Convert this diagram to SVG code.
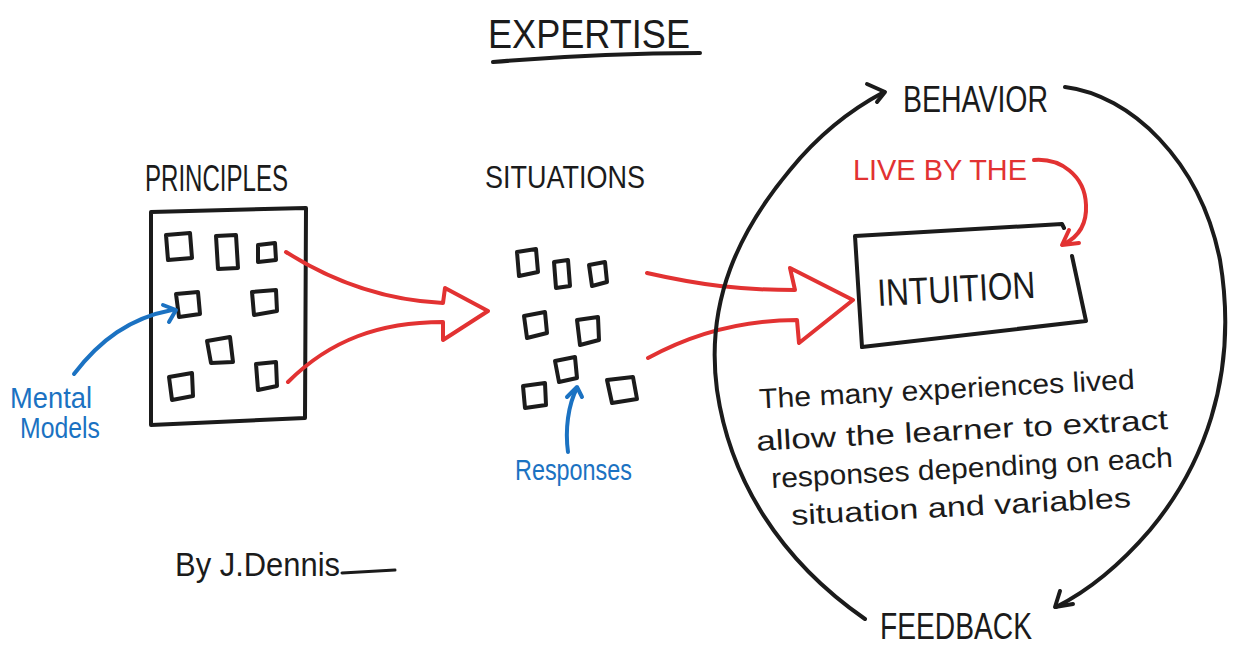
<svg xmlns="http://www.w3.org/2000/svg" width="1234" height="650" viewBox="0 0 1234 650">
<style>
  .k{fill:none;stroke:#1b1b1b;stroke-width:4;stroke-linecap:round;stroke-linejoin:round}
  .kt{fill:none;stroke:#1b1b1b;stroke-width:3;stroke-linecap:round;stroke-linejoin:round}
  .r{fill:none;stroke:#e23232;stroke-width:4;stroke-linecap:round;stroke-linejoin:round}
  .b{fill:none;stroke:#1b72c2;stroke-width:4;stroke-linecap:round;stroke-linejoin:round}
  .t{font-family:"Liberation Sans","DejaVu Sans",sans-serif;fill:#1b1b1b}
  .tr{font-family:"Liberation Sans","DejaVu Sans",sans-serif;fill:#e23232}
  .tb{font-family:"Liberation Sans","DejaVu Sans",sans-serif;fill:#1b72c2}
</style>
<rect width="1234" height="650" fill="#ffffff"/>

<g id="title">
  <text class="t" x="488" y="48" font-size="40" textLength="202" lengthAdjust="spacingAndGlyphs">EXPERTISE</text>
  <path class="k" d="M493 62 Q600 53 700 53"/>
</g>

<g id="principles">
  <text class="t" x="145" y="191" font-size="36" textLength="143" lengthAdjust="spacingAndGlyphs">PRINCIPLES</text>
  <path class="k" d="M151 212 L306 208 L305 418 L151 425 Z"/>
  <path class="k" d="M166 235 L190 233 L192 258 L168 260 Z"/>
  <path class="k" d="M216 236 L236 235 L238 268 L218 269 Z"/>
  <path class="k" d="M258 245 L275 243 L276 260 L258 262 Z"/>
  <path class="k" d="M176 294 L198 292 L200 314 L179 317 Z"/>
  <path class="k" d="M252 292 L276 290 L277 311 L254 315 Z"/>
  <path class="k" d="M207 341 L230 337 L233 362 L211 363 Z"/>
  <path class="k" d="M169 377 L192 373 L193 396 L172 400 Z"/>
  <path class="k" d="M256 364 L276 362 L277 386 L258 390 Z"/>
</g>

<g id="mental-models">
  <text class="tb" x="10" y="408" font-size="30" textLength="82" lengthAdjust="spacingAndGlyphs">Mental</text>
  <text class="tb" x="20" y="438" font-size="30" textLength="80" lengthAdjust="spacingAndGlyphs">Models</text>
</g>

<g id="situations">
  <text class="t" x="485" y="188" font-size="32" textLength="160" lengthAdjust="spacingAndGlyphs">SITUATIONS</text>
  <path class="k" d="M517 252 L536 249 L538 272 L519 276 Z"/>
  <path class="k" d="M554 262 L568 260 L570 286 L556 288 Z"/>
  <path class="k" d="M589 265 L605 262 L607 282 L592 286 Z"/>
  <path class="k" d="M524 316 L545 312 L547 333 L527 338 Z"/>
  <path class="k" d="M577 320 L598 317 L599 340 L580 345 Z"/>
  <path class="k" d="M555 361 L575 357 L577 378 L559 382 Z"/>
  <path class="k" d="M523 386 L545 383 L546 405 L525 408 Z"/>
  <path class="k" d="M607 380 L633 377 L637 399 L612 403 Z"/>
</g>

<g id="responses">
  <text class="tb" x="515" y="480" font-size="30" textLength="117" lengthAdjust="spacingAndGlyphs">Responses</text>
</g>

<g id="intuition">
  <path class="k" d="M862 347 L855 236 L1062 224 L1064 228"/>
  <path class="k" d="M1072 256 L1086 321 L862 347"/>
  <text class="t" x="877" y="302" font-size="38" textLength="158" lengthAdjust="spacingAndGlyphs" transform="rotate(-3 956 284)">INTUITION</text>
</g>

<g id="live-by-the">
  <text class="tr" x="853" y="180" font-size="29" textLength="174" lengthAdjust="spacingAndGlyphs">LIVE BY THE</text>
</g>

<g id="behavior">
  <text class="t" x="903" y="112" font-size="36" textLength="145" lengthAdjust="spacingAndGlyphs">BEHAVIOR</text>
</g>

<g id="feedback">
  <text class="t" x="880" y="639" font-size="36" textLength="152" lengthAdjust="spacingAndGlyphs">FEEDBACK</text>
</g>

<g id="description">
  <g transform="rotate(-3 960 450)">
    <text class="t" x="762" y="398" font-size="28" textLength="376" lengthAdjust="spacingAndGlyphs">The many experiences lived</text>
    <text class="t" x="757" y="440" font-size="28" textLength="412" lengthAdjust="spacingAndGlyphs">allow the learner to extract</text>
    <text class="t" x="770" y="478" font-size="28" textLength="402" lengthAdjust="spacingAndGlyphs">responses depending on each</text>
    <text class="t" x="788" y="516" font-size="28" textLength="340" lengthAdjust="spacingAndGlyphs">situation and variables</text>
  </g>
</g>

<g id="signature">
  <text class="t" x="175" y="576" font-size="34" textLength="165" lengthAdjust="spacingAndGlyphs">By J.Dennis</text>
  <path class="kt" d="M342 573 L395 570"/>
</g>

<g id="connectors">
  <path class="r" d="M286 252 C330 280 380 300 443 303 L445 288 L488 311 L443 340 L443 322 C380 322 330 340 288 382"/>
  <path class="r" d="M647 273 C700 285 740 290 795 290 L790 268 L853 300 L799 343 L797 320 C740 320 690 335 648 358"/>
  <path class="r" d="M1034 160 C1060 158 1085 175 1086 205 C1087 225 1078 237 1064 244"/>
  <path class="r" d="M1069 230 L1062 245 L1079 243"/>
  <path class="b" d="M74 374 C100 340 130 318 172 310"/>
  <path class="b" d="M163 305 L176 310 L169 322"/>
  <path class="b" d="M568 452 C565 430 568 405 577 388"/>
  <path class="b" d="M567 397 L577 387 L582 397"/>
  <path class="k" d="M865 619 C780 560 730 480 717 390 C705 300 740 230 790 170 C820 133 850 110 884 92"/>
  <path class="k" d="M867 84 L885 92 L877 102"/>
  <path class="k" d="M1065 87 C1130 95 1200 160 1220 260 C1240 380 1200 470 1150 530 C1120 565 1090 590 1056 607"/>
  <path class="k" d="M1060 591 L1055 607 L1073 604"/>
</g>
</svg>
